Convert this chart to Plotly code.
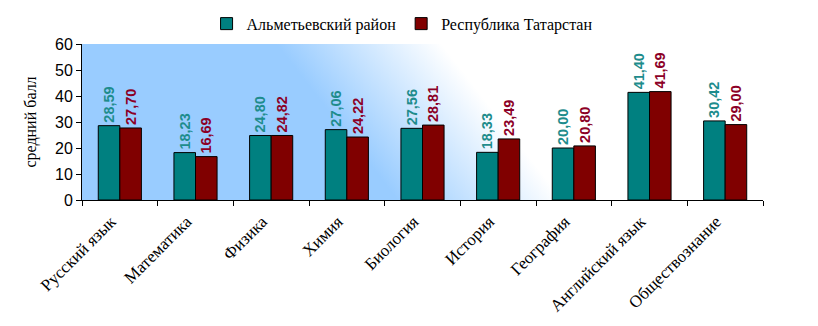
import base64
import plotly.graph_objects as go

categories = ["Русский язык", "Математика", "Физика", "Химия", "Биология",
              "История", "География", "Английский язык", "Обществознание"]
almetyevsk = [28.59, 18.23, 24.80, 27.06, 27.56, 18.33, 20.00, 41.40, 30.42]
tatarstan = [27.70, 16.69, 24.82, 24.22, 28.81, 23.49, 20.80, 41.69, 29.00]
series_names = ["Альметьевский район", "Республика Татарстан"]
y_ticks = [0, 10, 20, 30, 40, 50, 60]

SERIF = "Liberation Serif, Times New Roman, serif"
SANS = "Liberation Sans, Arial, sans-serif"


def fmt(v):
    return f"{v:.2f}".replace(".", ",")


svg = (
    '<svg xmlns="http://www.w3.org/2000/svg" width="681" height="156" '
    'viewBox="0 0 681 156" preserveAspectRatio="none">'
    '<defs><linearGradient id="g" gradientUnits="userSpaceOnUse" '
    'x1="255" y1="78" x2="358" y2="-2">'
    '<stop offset="0" stop-color="#99CCFF"/>'
    '<stop offset="1" stop-color="#FFFFFF"/>'
    '</linearGradient></defs>'
    '<rect x="0" y="0" width="681" height="156" fill="url(#g)"/></svg>'
)
svg_uri = "data:image/svg+xml;base64," + base64.b64encode(svg.encode()).decode()

fig = go.Figure()
fig.add_trace(go.Bar(
    x=categories, y=almetyevsk, name=series_names[0],
    marker=dict(color="#008080", line=dict(color="black", width=1)),
    text=[fmt(v) for v in almetyevsk], textposition="outside", textangle=-90,
    constraintext="none",
    textfont=dict(family=SANS, size=14.5, color="#1E8C8C", weight="bold"),
    cliponaxis=False,
))
fig.add_trace(go.Bar(
    x=categories, y=tatarstan, name=series_names[1],
    marker=dict(color="#800000", line=dict(color="black", width=1)),
    text=[fmt(v) for v in tatarstan], textposition="outside", textangle=-90,
    constraintext="none",
    textfont=dict(family=SANS, size=14.5, color="#8C0026", weight="bold"),
    cliponaxis=False,
))

fig.update_layout(
    width=818, height=326,
    margin=dict(l=82, r=55, t=44, b=126, autoexpand=False),
    paper_bgcolor="white", plot_bgcolor="rgba(0,0,0,0)",
    barmode="group", bargap=0.43, bargroupgap=0,
    showlegend=True,
    legend=dict(orientation="h", x=0.47, xanchor="center", y=1.13, yanchor="middle",
                font=dict(family=SERIF, size=16, color="black"),
                bgcolor="rgba(0,0,0,0)", itemwidth=30, traceorder="normal"),
    images=[dict(source=svg_uri, xref="paper", yref="paper", x=0, y=1,
                 sizex=1, sizey=1, sizing="stretch", layer="below",
                 xanchor="left", yanchor="top")],
    font=dict(family=SANS, color="black"),
)
fig.update_xaxes(
    type="category", showline=True, linecolor="black", linewidth=1,
    ticks="outside", ticklen=5, tickcolor="black", tickson="boundaries",
    tickangle=-45, tickfont=dict(family=SERIF, size=17, color="black"),
    ticklabelshift=-9, ticklabelstandoff=4,
    showgrid=False, zeroline=False,
)
fig.update_yaxes(
    range=[0, 60], tickvals=y_ticks, showline=True, linecolor="black", linewidth=1,
    ticks="outside", ticklen=5, tickcolor="black",
    tickfont=dict(family=SANS, size=16, color="black"),
    showgrid=False, zeroline=False,
    title=dict(text="средний балл", font=dict(family=SERIF, size=16, color="black"),
               standoff=14),
)
fig.write_html("out.html")
